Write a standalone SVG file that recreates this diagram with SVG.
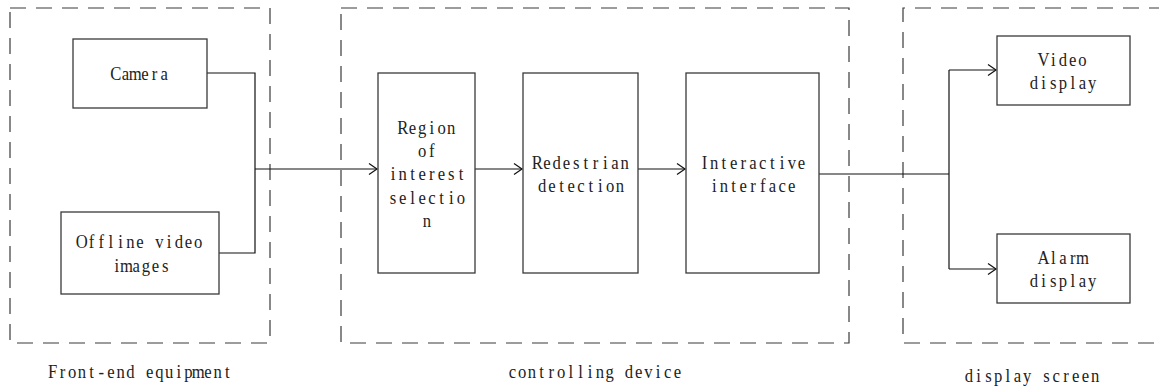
<svg xmlns="http://www.w3.org/2000/svg" width="1159" height="388" viewBox="0 0 1159 388">
<style>
.grp{fill:none;stroke:#3a3a3a;stroke-width:1.2;stroke-dasharray:16 10}
.box{fill:#fff;stroke:#3a3a3a;stroke-width:1.3}
.con{fill:none;stroke:#111;stroke-width:1.2}
text{font-family:"Liberation Serif","DejaVu Serif",serif;font-size:18.5px;fill:#222;text-anchor:middle}
</style>
<defs>
<marker id="arr" markerUnits="userSpaceOnUse" markerWidth="12" markerHeight="14" refX="9" refY="6" orient="auto">
<path d="M1,0.5 L9,6 L1,11.5" fill="none" stroke="#111" stroke-width="1.2"/>
</marker>
</defs>
<rect width="1159" height="388" fill="#fff"/>
<g id="groups">
<rect class="grp" x="10" y="8" width="260" height="335"/>
<rect class="grp" x="341" y="8" width="508" height="335"/>
<path class="grp" d="M1165,8 H903 V343 H1165"/>
<text transform="translate(140,378) scale(0.9,1)" x="-97 -86.22 -75.44 -64.67 -53.89 -43.11 -32.33 -21.56 -10.78 0 10.78 21.56 32.33 43.11 53.89 64.67 75.44 86.22 97">Front-end equipment</text>
<text transform="translate(595,378) scale(0.9,1)" x="-91.61 -80.83 -70.06 -59.28 -48.5 -37.72 -26.94 -16.17 -5.39 5.39 16.17 26.94 37.72 48.5 59.28 70.06 80.83 91.61">controlling device</text>
<text transform="translate(1032,382) scale(0.9,1)" x="-70.06 -59.28 -48.5 -37.72 -26.94 -16.17 -5.39 5.39 16.17 26.94 37.72 48.5 59.28 70.06">display screen</text>
</g>
<g id="connectors">
<path class="con" d="M207,73 H255 V253 H219"/>
<path class="con" d="M255,169 H377" marker-end="url(#arr)"/>
<path class="con" d="M475,169 H522" marker-end="url(#arr)"/>
<path class="con" d="M638,169 H685" marker-end="url(#arr)"/>
<path class="con" d="M819,174 H949"/>
<path class="con" d="M949,70 V269"/>
<path class="con" d="M949,70 H996" marker-end="url(#arr)"/>
<path class="con" d="M949,269 H996" marker-end="url(#arr)"/>
</g>
<g id="camera">
<rect class="box" x="73" y="39" width="134" height="69"/>
<text transform="translate(140,80) scale(0.9,1)" x="-26.94 -16.17 -5.39 5.39 16.17 26.94">Camera</text>
</g>
<g id="offline">
<rect class="box" x="61" y="212" width="158" height="82"/>
<text transform="translate(140,248) scale(0.9,1)" x="-64.67 -53.89 -43.11 -32.33 -21.56 -10.78 0 10.78 21.56 32.33 43.11 53.89 64.67">Offline video</text>
<text transform="translate(141,272) scale(0.9,1)" x="-26.94 -16.17 -5.39 5.39 16.17 26.94">images</text>
</g>
<g id="roi">
<rect class="box" x="378" y="73" width="97" height="200"/>
<text transform="translate(427,134) scale(0.9,1)" x="-26.94 -16.17 -5.39 5.39 16.17 26.94">Region</text>
<text transform="translate(427,157) scale(0.9,1)" x="-5.39 5.39">of</text>
<text transform="translate(427,180) scale(0.9,1)" x="-37.72 -26.94 -16.17 -5.39 5.39 16.17 26.94 37.72">interest</text>
<text transform="translate(427,204) scale(0.9,1)" x="-37.72 -26.94 -16.17 -5.39 5.39 16.17 26.94 37.72">selectio</text>
<text transform="translate(427,227) scale(0.9,1)" x="0">n</text>
</g>
<g id="detection">
<rect class="box" x="523" y="73" width="115" height="200"/>
<text transform="translate(581,169) scale(0.9,1)" x="-48.5 -37.72 -26.94 -16.17 -5.39 5.39 16.17 26.94 37.72 48.5">Redestrian</text>
<text transform="translate(581,192) scale(0.9,1)" x="-43.11 -32.33 -21.56 -10.78 0 10.78 21.56 32.33 43.11">detection</text>
</g>
<g id="interface">
<rect class="box" x="686" y="73" width="133" height="200"/>
<text transform="translate(753,169) scale(0.9,1)" x="-53.89 -43.11 -32.33 -21.56 -10.78 0 10.78 21.56 32.33 43.11 53.89">Interactive</text>
<text transform="translate(753,192) scale(0.9,1)" x="-43.11 -32.33 -21.56 -10.78 0 10.78 21.56 32.33 43.11">interface</text>
</g>
<g id="video">
<rect class="box" x="997" y="36" width="133" height="69"/>
<text transform="translate(1063,66) scale(0.9,1)" x="-21.56 -10.78 0 10.78 21.56">Video</text>
<text transform="translate(1063,89) scale(0.9,1)" x="-32.33 -21.56 -10.78 0 10.78 21.56 32.33">display</text>
</g>
<g id="alarm">
<rect class="box" x="997" y="234" width="133" height="69"/>
<text transform="translate(1063,264) scale(0.9,1)" x="-21.56 -10.78 0 10.78 21.56">Alarm</text>
<text transform="translate(1063,287) scale(0.9,1)" x="-32.33 -21.56 -10.78 0 10.78 21.56 32.33">display</text>
</g>
</svg>
